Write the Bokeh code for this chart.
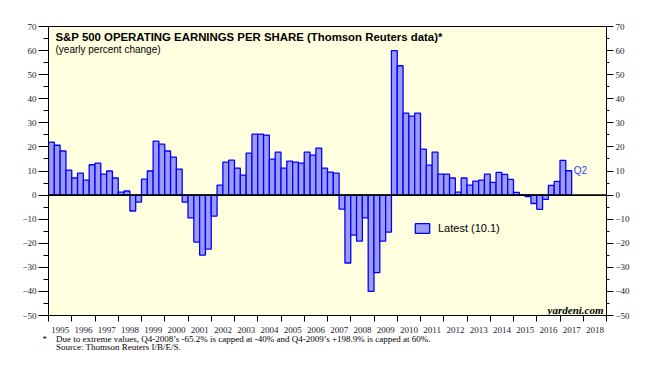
from bokeh.plotting import figure
from bokeh.models import (Range1d, LinearAxis, FixedTicker, Label, Span, Legend,
                          LegendItem, ColumnDataSource, CustomJSTickFormatter, Title)
from bokeh.embed import file_html
from bokeh.resources import INLINE

# ---- data -------------------------------------------------------------
start_year = 1995
years = list(range(1995, 2019))          # x-axis year labels
y_ticks = list(range(-50, 71, 10))       # y-axis tick labels
y_minor = list(range(-45, 70, 10))

# quarterly yearly % change, 1995Q1 .. 2017Q2
eps_growth = [
    22.0, 20.7, 18.3, 10.4,    # 1995
    7.1, 9.1, 6.2, 12.6,       # 1996
    13.3, 8.7, 10.0, 7.1,      # 1997
    1.2, 1.7, -6.6, -2.9,      # 1998
    6.6, 10.0, 22.4, 21.2,     # 1999
    18.3, 15.8, 10.8, -2.9,    # 2000
    -9.5, -19.5, -24.9, -22.4, # 2001
    -8.7, 4.1, 13.7, 14.5,     # 2002
    11.2, 8.3, 17.4, 25.3,     # 2003
    25.3, 24.9, 14.9, 17.8,    # 2004
    11.2, 14.1, 13.7, 13.3,    # 2005
    17.8, 16.6, 19.5, 11.2,    # 2006
    9.5, 9.1, -5.8, -28.2,     # 2007
    -16.6, -19.1, -9.5, -40.0, # 2008
    -32.2, -19.1, -15.4, 60.0, # 2009
    53.7, 34.0, 32.8, 34.0,    # 2010
    19.1, 12.4, 17.8, 8.7,     # 2011
    8.7, 7.1, 1.2, 7.1,        # 2012
    4.1, 5.8, 6.2, 8.7,        # 2013
    5.3, 9.4, 8.6, 6.5,        # 2014
    1.1, 0.1, -0.6, -3.5,      # 2015
    -5.9, -1.8, 4.0, 5.7,      # 2016
    14.4, 10.1,                # 2017
]
latest_quarter = "Q2"
legend_text = "Latest (10.1)"
title_text = "S&P 500 OPERATING EARNINGS PER SHARE (Thomson Reuters data)*"
subtitle_text = "(yearly percent change)"
note_text = ("*\u00a0\u00a0\u00a0\u00a0Due to extreme values, Q4-2008\u2019s -65.2% is capped at "
             "-40% and Q4-2009\u2019s +198.9% is capped at 60%.\n"
             "\u00a0\u00a0\u00a0\u00a0\u00a0\u00a0Source: Thomson Reuters I/B/E/S.")

x = [start_year + (i + 0.5) / 4 for i in range(len(eps_growth))]
src = ColumnDataSource(dict(x=x, v=eps_growth))

# ---- figure ----------------------------------------------------------
p = figure(width=649, height=358, output_backend="svg", toolbar_location=None,
           title=None, x_range=Range1d(years[0], years[-1] + 1),
           y_range=Range1d(-50, 70), x_axis_location=None, y_axis_location=None,
           min_border_left=48, min_border_right=43, min_border_top=26,
           min_border_bottom=43)
p.xgrid.visible = False
p.ygrid.visible = False
p.background_fill_color = "#FFFFE0"
p.border_fill_color = "white"
p.outline_line_color = "black"
p.outline_line_width = 1

lab_font = "Liberation Serif"

yl = LinearAxis(ticker=FixedTicker(ticks=y_ticks, minor_ticks=y_minor),
                major_tick_out=10, major_tick_in=0, minor_tick_out=5, minor_tick_in=0,
                major_label_standoff=2, major_label_text_font=lab_font,
                major_label_text_font_size="9px", major_label_text_color="#222233",
                axis_line_color="black")
p.add_layout(yl, "left")

yr = LinearAxis(ticker=FixedTicker(ticks=y_ticks, minor_ticks=y_minor),
                major_tick_out=7, major_tick_in=0, minor_tick_out=3, minor_tick_in=0,
                major_label_standoff=2, major_label_text_font=lab_font,
                major_label_text_font_size="9px", major_label_text_color="#222233",
                axis_line_color="black")
p.add_layout(yr, "right")

xb = LinearAxis(ticker=FixedTicker(ticks=[y + 0.5 for y in years],
                                   minor_ticks=years + [years[-1] + 1]),
                formatter=CustomJSTickFormatter(code="return Math.floor(tick).toString();"),
                major_tick_line_color=None, major_tick_out=0, major_tick_in=0,
                minor_tick_out=6, minor_tick_in=0, major_label_standoff=5,
                major_label_text_font=lab_font, major_label_text_font_size="9px",
                major_label_text_color="#222233", axis_line_color="black")
p.add_layout(xb, "below")

p.add_layout(Title(text=note_text, align="left", vertical_align="top", offset=-6,
                   standoff=-4, text_font=lab_font, text_font_size="9px",
                   text_font_style="normal", text_line_height=0.8,
                   text_color="black"), "below")

bars = p.vbar(x="x", top="v", bottom=0, width=0.25, source=src,
              fill_color="#9c9cf8", line_color="#0000ff", line_width=1.3)

p.add_layout(Span(location=0, dimension="width", line_color="black", line_width=1.6))

legend = Legend(items=[LegendItem(label=legend_text, renderers=[bars])],
                location=(365, 81), padding=0, margin=0, spacing=0,
                glyph_width=18, glyph_height=12, label_height=12, label_standoff=7,
                border_line_color=None, background_fill_alpha=0,
                label_text_font="Liberation Sans", label_text_font_size="11px",
                label_text_color="black")
p.add_layout(legend, "center")

p.add_layout(Label(x=x[-1], y=eps_growth[-1], text=latest_quarter, x_offset=5,
                   text_baseline="middle", text_color="#3344ff",
                   text_font="Liberation Sans", text_font_size="10px"))

p.add_layout(Label(x=7, y=279, x_units="screen", y_units="screen", text=title_text,
                   text_baseline="middle", text_font="Liberation Sans",
                   text_font_style="bold", text_font_size="11.4px", text_color="black"))
p.add_layout(Label(x=7, y=266, x_units="screen", y_units="screen", text=subtitle_text,
                   text_baseline="middle", text_font="Liberation Sans",
                   text_font_size="10px", text_color="black"))
p.add_layout(Label(x=555, y=6, x_units="screen", y_units="screen", text="yardeni.com",
                   text_align="right", text_baseline="middle", text_font=lab_font,
                   text_font_style="bold italic", text_font_size="11px",
                   text_color="black"))

open("out.html", "w").write(file_html(p, INLINE))
